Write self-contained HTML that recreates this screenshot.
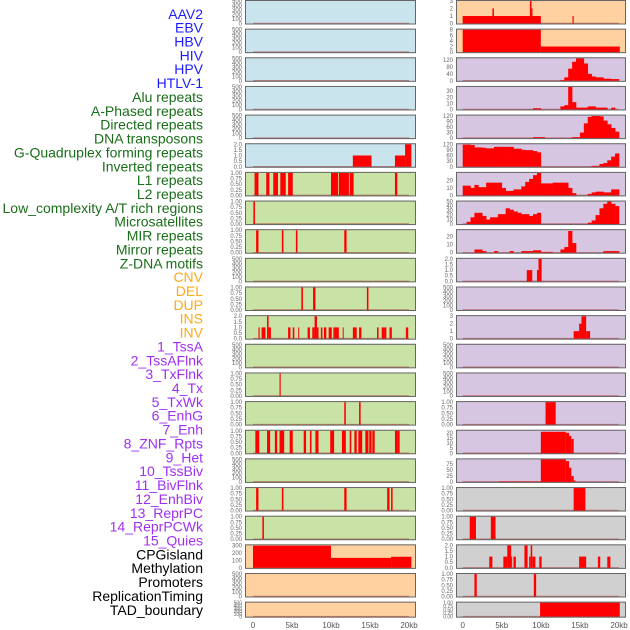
<!DOCTYPE html>
<html><head><meta charset="utf-8">
<style>
html,body{margin:0;padding:0;background:#fff;}
svg{display:block;font-family:"Liberation Sans",sans-serif;}
</style></head>
<body>
<svg id="chart" width="630" height="630" viewBox="0 0 630 630" xmlns="http://www.w3.org/2000/svg"></svg>
<script>
// ---------- data ----------
const trackLabels = ["AAV2","EBV","HBV","HIV","HPV","HTLV-1","Alu repeats","A-Phased repeats","Directed repeats","DNA transposons","G-Quadruplex forming repeats","Inverted repeats","L1 repeats","L2 repeats","Low_complexity A/T rich regions","Microsatellites","MIR repeats","Mirror repeats","Z-DNA motifs","CNV","DEL","DUP","INS","INV","1_TssA","2_TssAFlnk","3_TxFlnk","4_Tx","5_TxWk","6_EnhG","7_Enh","8_ZNF_Rpts","9_Het","10_TssBiv","11_BivFlnk","12_EnhBiv","13_ReprPC","14_ReprPCWk","15_Quies","CPGisland","Methylation","Promoters","ReplicationTiming","TAD_boundary"];
const labelGroups = ["v","v","v","v","v","v","r","r","r","r","r","r","r","r","r","r","r","r","r","s","s","s","s","s","c","c","c","c","c","c","c","c","c","c","c","c","c","c","c","e","e","e","e","e"];
const xTickValues = [0,5,10,15,20];
const xTickLabels = ["0","5kb","10kb","15kb","20kb"];

// y ranges and tick labels per panel (left column 0..21, right column 0..21)
const leftYMax = [500,500,500,500,500,2,1,1,1,500,1,2,500,1,1,1,500,1,1,305,500,500];
const rightYMax = [3,8,130,37,122,122,30,50,28,2,500,3,500,500,1,22,95,1,1,2,1,1];
const leftTicks = ["E","E","E","E","E","T2","T1","T1","T1","E","T1","T2","E","T1","T1","T1","E","T1","T1","T300","E","E"];
const rightTicks = ["I3","I8","I120","I30","I120b","I120b","I20","I50","I20","T2","E","I3","E","E","T1","I20b","I75","T1","T1","T2","T1","T1"];
const tickSets = {
  E:[[0,"0"],[100,"100"],[200,"200"],[300,"300"],[400,"400"],[500,"500"]],
  T1:[[0,"0.00"],[0.25,"0.25"],[0.5,"0.50"],[0.75,"0.75"],[1,"1.00"]],
  T2:[[0,"0.0"],[0.5,"0.5"],[1,"1.0"],[1.5,"1.5"],[2,"2.0"]],
  T300:[[0,"0"],[100,"100"],[200,"200"],[300,"300"]],
  I3:[[0,"0"],[1,"1"],[2,"2"],[3,"3"]],
  I8:[[0,"0"],[2,"2"],[4,"4"],[6,"6"],[8,"8"]],
  I120:[[0,"0"],[40,"40"],[80,"80"],[120,"120"]],
  I30:[[0,"0"],[10,"10"],[20,"20"],[30,"30"]],
  I120b:[[0,"0"],[30,"30"],[60,"60"],[90,"90"],[120,"120"]],
  I20:[[0,"0"],[10,"10"],[20,"20"]],
  I50:[[0,"0"],[10,"10"],[20,"20"],[30,"30"],[40,"40"],[50,"50"]],
  I20b:[[0,"0"],[5,"5"],[10,"10"],[15,"15"],[20,"20"]],
  I75:[[0,"0"],[25,"25"],[50,"50"],[75,"75"]]
};
const leftBg = ["b","b","b","b","b","b","g","g","g","g","g","g","g","g","g","g","g","g","g","o","o","o"];
const rightBg = ["o","o","p","p","p","p","p","p","p","p","p","p","p","p","p","p","p","k","k","k","k","k"];

// segments [startKb, endKb, value]
const segL5 = [[12.8,15.2,1],[18.2,19.5,1],[19.5,20.3,2]];
const segL6 = [[0.2,0.7,1],[1.7,2.1,1],[2.6,3.2,1],[3.5,4.2,1],[4.5,5.1,1],[10.0,10.9,1],[11.0,12.3,1],[12.4,12.9,1],[18.2,18.5,1]];
const segL7 = [[0.05,0.25,1]];
const segL8 = [[0.4,0.7,1],[3.7,3.9,1],[5.5,5.7,1],[11.7,12.0,1]];
const segL10 = [[6.2,6.4,1],[7.7,8.0,1],[14.6,14.8,1]];
const segL11 = [[0.7,0.85,1],[1.1,1.6,1],[1.8,2.0,2],[2.0,2.3,1],[4.5,4.8,1],[5.1,5.3,1],[5.8,5.9,1],[7.0,7.3,1],[7.6,7.9,1],[7.9,8.2,2],[8.2,8.4,1],[8.7,8.9,1],[9.1,9.4,1],[9.7,10.1,1],[10.3,10.5,1],[10.5,11.0,1],[11.5,11.6,1],[12.8,13.3,1],[13.6,13.9,1],[15.9,16.1,1],[16.5,16.8,1],[16.8,17.1,1],[17.5,17.8,1],[19.6,19.9,1]];
const segL13 = [[3.4,3.55,1]];
const segL14 = [[11.7,11.9,1],[13.6,13.8,1]];
const segL15 = [[0.3,0.8,1],[1.8,2.2,1],[2.8,3.1,1],[3.4,4.0,1],[4.7,5.1,1],[6.5,6.8,1],[7.3,7.5,1],[8.0,8.4,1],[9.9,10.4,1],[11.4,11.9,1],[12.4,12.6,1],[13.0,13.3,1],[13.5,14.0,1],[14.4,14.8,1],[14.9,15.2,1],[15.3,15.6,1],[18.2,18.5,1],[18.5,18.8,1]];
const segL17 = [[0.4,0.7,1],[3.7,3.9,1],[11.7,12.0,1],[17.2,17.5,1],[17.7,17.9,1]];
const segL18 = [[1.2,1.4,1]];
const segL19 = [[0,10,300],[10,17.7,135],[17.7,20.3,150]];

const segR0 = [[0,10,1],[3.8,4.0,2],[8.6,8.8,3],[8.8,8.9,2],[14.05,14.2,1]];
const segR1 = [[0,10,8],[10,20.1,2]];
const segR9 = [[8.2,8.9,1],[9.5,9.7,1],[9.7,10.1,2]];
const segR11 = [[14.2,14.9,1],[14.9,15.2,2],[15.2,15.8,3],[15.8,16.3,1]];
const segR14 = [[10.6,11.9,1]];
const segR15 = [[10,13.2,21],[13.2,13.6,20],[13.6,13.9,17],[13.9,14.2,14]];
const segR16 = [[4.6,10,2],[10,13.2,100],[13.2,13.6,88],[13.6,13.9,60],[13.9,14.2,25],[14.2,14.4,6]];
const segR17 = [[14.2,15.7,1]];
const segR18 = [[0.9,1.7,1],[3.6,4.2,1]];
const segR19 = [[3.4,3.8,1],[5.2,5.7,1],[5.7,6.2,2],[6.2,6.3,1],[6.5,6.8,1],[7.9,8.3,2],[8.5,8.7,1],[8.7,8.9,2],[8.9,9.3,1],[9.8,10.1,1],[14.9,15.8,1],[17.3,17.6,1],[18.5,18.9,1]];
const segR20 = [[1.5,1.8,1],[9.1,9.4,1]];
const segR21 = [[9.9,20.1,1]];

// profiles in 0.5 kb bins (40 bins, 0..20kb)
const profR2 = [0,0,0,0,0,0,0,0,0,0,0,0,0,0,0,0,0,0,0,0,0,0,0,0,0,5,20,70,110,130,130,100,40,25,20,20,12,12,10,10];
const profR3 = [0,0,0,0,0,0,0,0,0,0,0,0,0,0,0,0,0,0,2,2,0,0,0,0,0,5,7,37,12,3,3,3,5,5,3,3,3,0,3,0];
const profR4 = [0,0,0,0,0,0,0,0,0,0,0,0,0,0,0,0,0,0,5,5,5,0,0,0,0,0,0,0,5,5,30,80,115,120,120,118,95,75,55,35];
const profR5 = [120,120,118,105,105,103,100,100,108,108,108,108,108,98,98,92,90,90,85,78,0,0,0,0,0,0,0,0,0,0,0,0,0,5,5,15,20,35,55,72];
const profR6 = [13,13,10,14,11,11,17,17,17,17,10,6,6,8,8,12,18,22,27,30,16,16,16,17,17,17,17,10,3,0,0,0,2,4,5,5,4,4,8,8];
const profR7 = [0,5,15,25,25,18,10,15,15,22,22,35,32,28,25,22,22,18,22,25,0,0,0,0,0,0,0,0,0,0,0,0,3,8,20,35,45,50,45,40];
const profR8 = [0,0,0,4,4,2,0,0,2,0,0,0,2,0,0,2,2,2,3,3,1,1,1,0,0,4,7,27,12,0,0,0,0,0,0,0,2,2,2,2];

const leftSegs = {5:segL5,6:segL6,7:segL7,8:segL8,10:segL10,11:segL11,13:segL13,14:segL14,15:segL15,17:segL17,18:segL18,19:segL19};
const rightSegs = {0:segR0,1:segR1,9:segR9,11:segR11,14:segR14,15:segR15,16:segR16,17:segR17,18:segR18,19:segR19,20:segR20,21:segR21};
const rightProfs = {2:profR2,3:profR3,4:profR4,5:profR5,6:profR6,7:profR7,8:profR8};

// ---------- drawing ----------
const NS = "http://www.w3.org/2000/svg";
const svg = document.getElementById("chart");
const bgColors = {b:"#c9e4ec",g:"#c9e2a5",o:"#ffd1a0",p:"#d6c6e2",k:"#d0d0d0"};
const groupColors = {v:"#1c1cff",r:"#1a6e1a",s:"#ffa81a",c:"#a030f0",e:"#000000"};
const PITCH = 28.65, PH = 24.5;
const cols = [{x0:245,x1:416,d0:253,d1:409},{x0:456,x1:626,d0:462.7,d1:619}];

function mk(tag, attrs, parent){
  const e = document.createElementNS(NS, tag);
  for (const k in attrs) e.setAttribute(k, attrs[k]);
  (parent||svg).appendChild(e);
  return e;
}

// labels
trackLabels.forEach((t,i)=>{
  const el = mk("text",{x:203,y:(18.8+13.86*i).toFixed(1),"text-anchor":"end","font-size":"14",fill:groupColors[labelGroups[i]]});
  
  
  el.textContent = t;
});

function drawPanel(ci, r, bg, ymax, tickKey, segs, prof){
  const c = cols[ci];
  const top = r*PITCH;
  const h = (r===21) ? 16 : PH;
  const g = mk("g",{});
  
  
  const bgR = mk("rect",{x:c.x0,y:top,width:c.x1-c.x0,height:h,fill:bgColors[bg]},g);
  
  
  const xs = v => c.d0 + (v/20)*(c.d1-c.d0);
  const yb = top + h - 1, yt = top + 1;
  const ys = v => yb - Math.min(v/ymax,1.0)*(yb-yt);
  // ticks
  const ts = tickSets[tickKey];
  const fs = (r===21) ? 5 : 6;
  ts.forEach(([v,l])=>{
    const tx = mk("text",{x:c.x0-3,y:(ys(v)+2).toFixed(1),"text-anchor":"end","font-size":fs,fill:"#666"},g);
    
    
    tx.textContent = l;
  });
  // baseline
  const bl = mk("line",{x1:xs(0),x2:xs(20),y1:yb,y2:yb,stroke:"rgba(170,30,30,0.5)","stroke-width":1.5},g);
  
  
  if (segs) segs.forEach(([s,e,v])=>{
    const br = mk("rect",{x:xs(s).toFixed(2),y:ys(v).toFixed(2),width:Math.max(xs(e)-xs(s),1).toFixed(2),height:(yb-ys(v)).toFixed(2),fill:"#ff0000"},g);
    
    
  });
  if (prof) prof.forEach((v,k)=>{
    if (v<=0) return;
    const br = mk("rect",{x:xs(k*0.5).toFixed(2),y:ys(v).toFixed(2),width:(xs(0.5)-xs(0)+0.3).toFixed(2),height:(yb-ys(v)).toFixed(2),fill:"#ff0000"},g);
    
    
  });
  const bd = mk("rect",{x:c.x0+0.5,y:top+0.5,width:c.x1-c.x0-1,height:h-1,fill:"none",stroke:"#666","stroke-width":1},g);
  
  
}

for (let r=0;r<22;r++){
  drawPanel(0, r, leftBg[r], leftYMax[r], leftTicks[r], leftSegs[r], null);
  drawPanel(1, r, rightBg[r], rightYMax[r], rightTicks[r], rightSegs[r], rightProfs[r]);
}

// x axes
cols.forEach(c=>{
  xTickValues.forEach((v,i)=>{
    const x = c.d0 + (v/20)*(c.d1-c.d0);
    const t = mk("text",{x:x.toFixed(1),y:628,"text-anchor":"middle","font-size":"8",fill:"#555"});
    
    
    t.textContent = xTickLabels[i];
  });
});
</script>
</body></html>
